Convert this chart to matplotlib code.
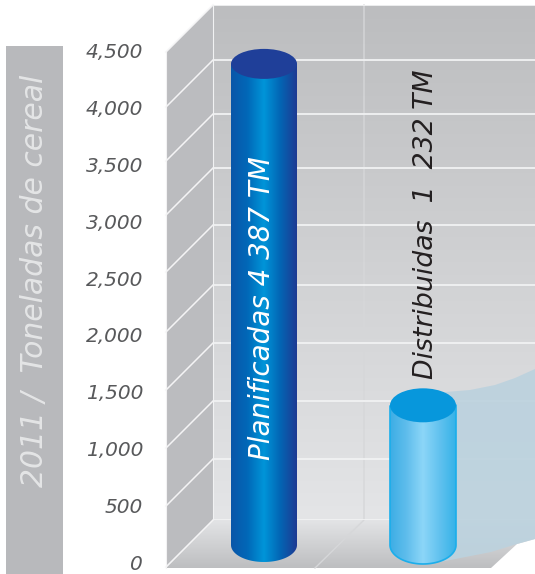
import matplotlib
matplotlib.use("Agg")
import matplotlib.pyplot as plt
import numpy as np
from matplotlib.colors import LinearSegmentedColormap
from matplotlib.patches import PathPatch, Polygon, Rectangle, Ellipse
from matplotlib.path import Path

# data
tick_values = [0, 500, 1000, 1500, 2000, 2500, 3000, 3500, 4000, 4500]
grid_heights = [0, 61, 119, 177, 235, 295, 352, 406, 460, 515]  # the picture's grid is not even
bar_names = ["Planificadas", "Distribuidas"]
bar_values = [4387, 1232]
bar_labels = ["Planificadas 4 387 TM", "Distribuidas  1  232 TM"]
axis_title = "2011 /  Toneladas de cereal"

W, H = 535, 574
plt.rcParams["font.family"] = ["DejaVu Sans"]
fig = plt.figure(figsize=(W / 100, H / 100), dpi=100)


def make_axes(top, bottom, z):
    ax = fig.add_axes([0, (H - bottom) / H, 1, (bottom - top) / H])
    ax.set_xlim(0, W)
    ax.patch.set_visible(False)
    ax.set_zorder(z)
    for s in ax.spines.values():
        s.set_visible(False)
    return ax


def perspective_scale(ax):
    fwd = lambda v: np.interp(v, tick_values, grid_heights)
    inv = lambda h: np.interp(h, grid_heights, tick_values)
    ax.set_yscale("function", functions=(fwd, inv))
    ax.set_ylim(0, 4500)
    ax.set_xticks([])
    ax.set_yticks([])
    ax.minorticks_off()


def gradient(ax, colors, extent, vertical=False, clip=None, z=1):
    cmap = LinearSegmentedColormap.from_list("g", colors)
    ramp = np.linspace(0, 1, 256)
    ramp = ramp[:, None] if vertical else ramp[None, :]
    im = ax.imshow(ramp, cmap=cmap, extent=extent, aspect="auto", origin="upper",
                   interpolation="bilinear", zorder=z)
    if clip is not None:
        im.set_clip_path(clip)
    return im


# background layer in pixel coordinates
bg = make_axes(0, H, 0)
bg.set_axis_off()
bg.add_patch(Rectangle((6, 46), 57, 528, color="#B8B9BC", lw=0))
bg.text(35, 281, axis_title, rotation=90, ha="center", va="center", style="italic",
        fontsize=21.5, color="#E4E5E6")
bg.add_patch(Polygon([(166, 52), (213, 5), (213, 520), (166, 568)], color="#BBBCBF", lw=0))
gradient(bg, ["#BCBDBF", "#D0D1D3", "#E4E5E7"], (213, 535, 520, 5), vertical=True)
floor = Polygon([(166, 568), (213, 520), (535, 520), (535, 539), (517, 544), (491, 568)],
                transform=bg.transData, color="none")
bg.add_patch(floor)
gradient(bg, ["#E3E4E6", "#BDBEC0"], (166, 535, 568, 520), vertical=True, clip=floor, z=2)
bg.plot([364, 364, 315], [5, 520, 568], color="#D6D7D9", lw=1, zorder=3)
bg.plot([166, 166], [52, 568], color="#F2F2F3", lw=0.8, zorder=3)
bg.set_xlim(0, W)
bg.set_ylim(H, 0)

# gridlines on the back wall
grid_ax = make_axes(5, 520, 1)
perspective_scale(grid_ax)
grid_ax.hlines(tick_values, 213, W, color="#F1F2F3", lw=1.3)
grid_ax.vlines(213, 0, 4500, color="#F1F2F3", lw=0.8)
for t in tick_values:
    px = bg.transData.inverted().transform(grid_ax.transData.transform((213, t)))[1]
    bg.plot([213, 166], [px, px + 47], color="#F4F4F5", lw=1.1, zorder=3)
bg.set_xlim(0, W)
bg.set_ylim(H, 0)

# front axis labels
tick_ax = make_axes(51, 562, 2)
tick_ax.set_ylim(0, 4500)
tick_ax.set_xticks([])
tick_ax.set_yticks(tick_values)
tick_ax.set_yticklabels([f"{t:,}" for t in tick_values], style="italic", fontsize=14.5,
                        color="#58595B")
tick_ax.tick_params(axis="y", length=0, pad=0, direction="in")
tick_ax.yaxis.set_ticks_position("left")
for lab in tick_ax.get_yticklabels():
    lab.set_ha("right")
    lab.set_x(143 / W)

# bars, the scale gives the top of each cylinder
bar_ax = make_axes(52, 545, 3)
perspective_scale(bar_ax)
bars = bar_ax.bar([264, 423], bar_values, width=66, color="none", lw=0)

top = make_axes(0, H, 4)
top.set_axis_off()
top.set_xlim(0, W)
top.set_ylim(H, 0)

# pale swoosh behind the second bar
sx = [445, 470, 495, 515, 535, 535, 517, 491, 440]
sy = [392, 390, 385, 378, 369, 539, 544, 552, 562]
top.add_patch(Polygon(np.column_stack([sx, sy]), color="#BCD2DE", alpha=0.92, lw=0, zorder=1))

bar_styles = [
    (["#0A56A8", "#0168B8", "#0095D9", "#0365B4", "#1E3A93"], "#1F3F99", 15, 17, None),
    (["#3DADE5", "#5FBDEC", "#8CD6F8", "#62C2EF", "#35B2E8"], "#0797DC", 17, 19, "#1BAEEB"),
]
for rect, (cols, cap, ry_top, ry_bot, edge) in zip(bars, bar_styles):
    x0 = rect.get_x()
    x1 = x0 + rect.get_width()
    xc = (x0 + x1) / 2
    to_px = lambda v: top.transData.inverted().transform(bar_ax.transData.transform((xc, v)))[1]
    y_top = to_px(rect.get_height())
    y_base = to_px(0)
    t = np.linspace(np.pi, 0, 60)
    low = np.column_stack([xc + (x1 - x0) / 2 * np.cos(t), y_base + ry_bot * np.sin(t)])
    outline = np.vstack([[[x0, y_top]], low, [[x1, y_top]], [[x0, y_top]]])
    body = PathPatch(Path(outline), transform=top.transData, fc="none",
                     ec=edge or "none", lw=1.2, zorder=3)
    top.add_patch(body)
    gradient(top, cols, (x0, x1, y_base + ry_bot, y_top), clip=body, z=2)
    top.add_patch(Ellipse((xc, y_top), x1 - x0, 2 * ry_top, color=cap, lw=0, zorder=4))

top.set_xlim(0, W)
top.set_ylim(H, 0)

top.text(262, 308, bar_labels[0], rotation=90, ha="center", va="center", style="italic",
         fontsize=20, color="white", zorder=5)
top.text(426, 224, bar_labels[1], rotation=90, ha="center", va="center", style="italic",
         fontsize=19.3, color="#231F20", zorder=5)

fig.savefig("out.png", dpi=100, facecolor="white")
